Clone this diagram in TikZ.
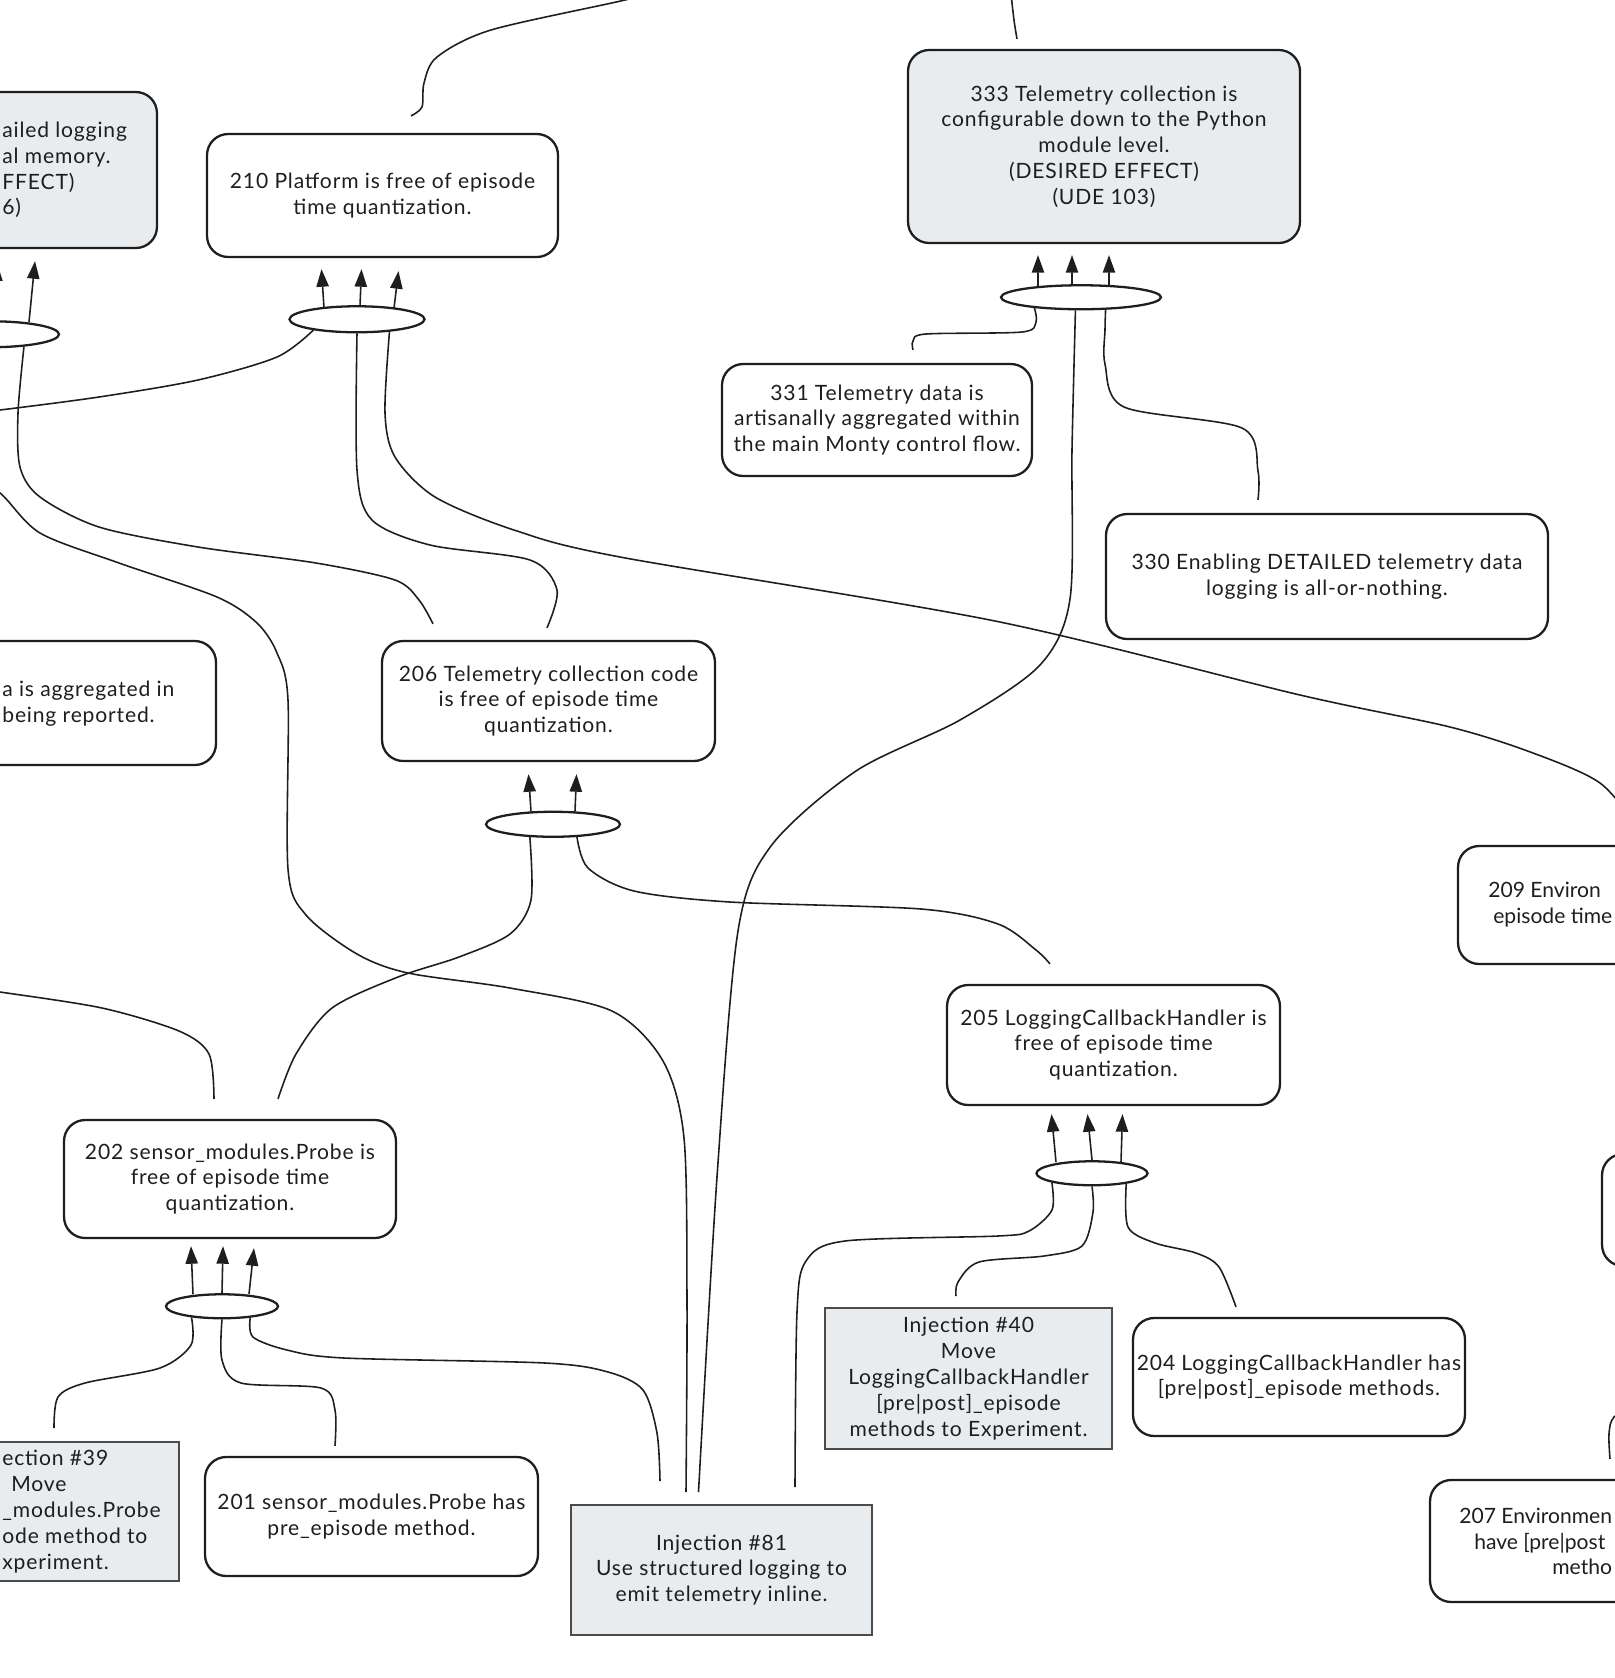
\documentclass[tikz,border=0pt]{standalone}
\usepackage{fontspec}
\setmainfont{Lato}[LetterSpace=4]
\newfontfamily\edgefont{Lato}
\usetikzlibrary{
  arrows.meta,
  positioning,
  shapes.geometric
}
\definecolor{notefill}{RGB}{233,236,239}
\definecolor{ink}{RGB}{30,30,30}
\tikzset{
  >={Triangle[length=10pt,width=7pt]},
  every node/.style={font=\fontsize{12}{14.7}\selectfont, text=ink},
  claim/.style={draw=ink, line width=1.3pt, rounded corners=12pt, align=center, inner sep=0pt},
  goal/.style={claim, fill=notefill},
  inject/.style={draw=ink!80, line width=1.1pt, fill=notefill, align=center, inner sep=0pt},
  junction/.style={draw=ink, ellipse, line width=1.3pt, inner sep=0pt},
  frag/.style={inner sep=0pt},
  wire/.style={draw=ink, line width=0.9pt},
  lift/.style={->, draw=ink, line width=0.9pt}
}

\begin{document}
\begin{tikzpicture}[x=0.02cm, y=-0.02cm]
    \useasboundingbox (0,0) rectangle (1614,1678);
    \node[goal, minimum width=7.48cm, minimum height=3.12cm] (s106) at (-30,170) {};
    \node[frag, anchor=west, align=left] (t106) at (2,170) {ailed logging\\al memory.\\FFECT)\\6)};
    \node[claim, minimum width=7.02cm, minimum height=2.46cm] (s210) at (382.5,195.5) {210 Platform is free of episode\\time quantization.};
    \node[goal, minimum width=7.84cm, minimum height=3.86cm] (s333) at (1104,146.5) {333 Telemetry collection is\\configurable down to the Python\\module level.\\(DESIRED EFFECT)\\(UDE 103)};
    \node[claim, minimum width=6.2cm, minimum height=2.24cm] (s331) at (877,420) {331 Telemetry data is\\artisanally aggregated within\\the main Monty control flow.};
    \node[claim, minimum width=8.84cm, minimum height=2.5cm] (s330) at (1327,576.5) {330 Enabling DETAILED telemetry data\\logging is all-or-nothing.};
    \node[claim, minimum width=6.6cm, minimum height=2.48cm] (sagg) at (51,703) {};
    \node[frag, anchor=west, align=left] (tagg) at (2,703.5) {a is aggregated in\\being reported.};
    \node[claim, minimum width=6.66cm, minimum height=2.4cm] (s206) at (548.5,701) {206 Telemetry collection code\\is free of episode time\\quantization.};
    \node[claim, minimum width=6.64cm, minimum height=2.36cm] (s209) at (1624,905) {};
    \node[frag, anchor=west, align=left, font=\edgefont\fontsize{12}{14.7}\selectfont] (t209) at (1488,905) {209 Environ\\\rule{0.1cm}{0pt}episode time};
    \node[claim, minimum width=6.66cm, minimum height=2.4cm] (s205) at (1113.5,1045) {205 LoggingCallbackHandler is\\free of episode time\\quantization.};
    \node[claim, minimum width=6.64cm, minimum height=2.36cm] (s202) at (230,1179) {202 sensor\_modules.Probe is\\free of episode time\\quantization.};
    \node[claim, minimum width=6.64cm, minimum height=2.24cm] (sedge) at (1768,1210) {};
    \node[inject, minimum width=5.76cm, minimum height=2.78cm] (i39) at (35,1511.5) {};
    \node[frag, anchor=west, align=left] (t39) at (2,1511.5) {ection \#39\\\rule{0.18cm}{0pt}Move\\\_modules.Probe\\ode method to\\xperiment.};
    \node[claim, minimum width=6.66cm, minimum height=2.38cm] (s201) at (371.5,1516.5) {201 sensor\_modules.Probe has\\pre\_episode method.};
    \node[inject, minimum width=6.02cm, minimum height=2.6cm] (i81) at (721.5,1570) {Injection \#81\\Use structured logging to\\emit telemetry inline.};
    \node[inject, minimum width=5.74cm, minimum height=2.82cm] (i40) at (968.5,1378.5) {Injection \#40\\Move\\LoggingCallbackHandler\\{}[pre|post]\_episode\\methods to Experiment.};
    \node[claim, minimum width=6.64cm, minimum height=2.36cm] (s204) at (1299,1377) {204 LoggingCallbackHandler has\\{}[pre|post]\_episode methods.};
    \node[claim, minimum width=6.64cm, minimum height=2.44cm] (s207) at (1596,1541) {};
    \node[frag, anchor=west, align=left, font=\edgefont\fontsize{12}{14.7}\selectfont] (t207) at (1459,1541.5) {207 Environmen\\\rule{0.3cm}{0pt}have [pre|post\\\rule{1.86cm}{0pt}metho};

    \node[junction, minimum width=2.76cm, minimum height=0.52cm, below=1.42cm of s106, xshift=0.4cm] (eL) {};
    \node[junction, minimum width=2.7cm, minimum height=0.52cm, below=0.94cm of s210, xshift=-0.51cm] (e210) {};
    \node[junction, minimum width=3.2cm, minimum height=0.48cm, below=0.8cm of s333, xshift=-0.46cm] (e333) {};
    \node[junction, minimum width=2.68cm, minimum height=0.5cm, below=0.97cm of s206, xshift=0.09cm] (e206) {};
    \node[junction, minimum width=2.24cm, minimum height=0.48cm, below=1.08cm of s202, xshift=-0.16cm] (e202) {};
    \node[junction, minimum width=2.22cm, minimum height=0.48cm, below=1.08cm of s205, xshift=-0.43cm] (e205) {};

    \coordinate (cw1) at (-30,413);
    \coordinate (cw2) at (-30,480);
    \coordinate (cw3) at (-30,988);
    \coordinate (cn1) at (680,-15);
    \coordinate (cn2) at (1010,-15);
    \coordinate (c207) at (1640,1400);

    \draw[lift] ([shift={(39,2)}]eL.north) -- ([shift={(65,12)}]s106.south);
    \draw[lift] ([shift={(5,0)}]eL.north) -- ([shift={(27,14)}]s106.south);
    \draw[lift] ([shift={(-33,3)}]e210.north) -- ([shift={(-61,11)}]s210.south);
    \draw[lift] ([shift={(3,1)}]e210.north) -- ([shift={(-21,11)}]s210.south);
    \draw[lift] ([shift={(37,3)}]e210.north) -- ([shift={(16,13)}]s210.south);
    \draw[lift] ([shift={(-43,2)}]e333.north) -- ([shift={(-66,11)}]s333.south);
    \draw[lift] ([shift={(-9,0)}]e333.north) -- ([shift={(-32,11)}]s333.south);
    \draw[lift] ([shift={(28,2)}]e333.north) -- ([shift={(5,11)}]s333.south);
    \draw[lift] ([shift={(-22,1)}]e206.north) -- ([shift={(-20,12)}]s206.south);
    \draw[lift] ([shift={(22,1)}]e206.north) -- ([shift={(28,12)}]s206.south);
    \draw[lift] ([shift={(-29,1)}]e202.north) -- ([shift={(-39,7)}]s202.south);
    \draw[lift] (e202.north) -- ([shift={(-7,7)}]s202.south);
    \draw[lift] ([shift={(27,1)}]e202.north) -- ([shift={(24,9)}]s202.south);
    \draw[lift] ([shift={(-36,2)}]e205.north) -- ([shift={(-62,8)}]s205.south);
    \draw[lift] (e205.north) -- ([shift={(-26,8)}]s205.south);
    \draw[lift] ([shift={(29,2)}]e205.north) -- ([shift={(9,8)}]s205.south);

    \draw[wire] plot[smooth] coordinates {([shift={(28.5,-17)}]s210.north) (422,107) (424,83) (437,57) (491,30) (625,0) (cn1)};
    \draw[wire] plot[smooth] coordinates {([shift={(-87,-10)}]s333.north) (1014,20) (cn2)};
    \draw[wire] plot[smooth] coordinates {(e210.194) (277,357) (198,380) (99,397) (0,410) (cw1)};
    \draw[wire] plot[smooth] coordinates {(e210.south) (357,470) (372,520) (430,545) (530,560) (557,590) ([shift={(-1.5,-12)}]s206.north)};
    \draw[wire] plot[smooth] coordinates {(e210.339) (385,413) (395,457) (435,497) (514,530) (620,557) (995,621) (1300,695) (1450,727) (1533,753) (1600,783) ([shift={(16,-15)}]s209.north)};
    \draw[wire] plot[smooth] coordinates {(eL.340) (18,413) (20,467) (40,497) (99,527) (198,547) (316,563) (395,580) (419,600) ([shift={(-115.5,-16)}]s206.north)};
    \draw[wire] plot[smooth] coordinates {(cw2) (0,493) (40,533) (119,563) (217,597) (257,623) (277,653) (288,700) (288,869) (306,915) (357,954) (408,973) (510,988) (612,1011) (663,1061) (684,1138) (687,1300) ([shift={(-35.5,-12)}]i81.north)};
    \draw[wire] plot[smooth] coordinates {(e333.193) (1036,322) (1022,332) (926,334) (913,341) ([shift={(36,-13)}]s331.north)};
    \draw[wire] plot[smooth] coordinates {(e333.333) (1105,330) (1105,364) (1124,407) (1242,428) (1258,471) ([shift={(-69,-13)}]s330.north)};
    \draw[wire] plot[smooth] coordinates {(e333.247) (1072,450) (1070,599) (1040,665) (960,720) (856,771) (771,846) (738,931) (717,1177) ([shift={(-23,-12)}]i81.north)};
    \draw[wire] plot[smooth] coordinates {(e206.209) (531,900) (510,934) (459,957) (398,977) (332,1008) (296,1054) ([shift={(48,-20)}]s202.north)};
    \draw[wire] plot[smooth] coordinates {(e206.332) (588,868) (634,891) (730,902) (921,909) (998,924) (1036,950) ([shift={(-63.5,-20)}]s205.north)};
    \draw[wire] plot[smooth] coordinates {(cw3) (0,992) (102,1008) (179,1031) (209,1054) ([shift={(-16,-20)}]s202.north)};
    \draw[wire] plot[smooth] coordinates {(e202.200) (191,1345) (160,1368) (85,1383) (58,1397) ([shift={(19,-13)}]i39.north)};
    \draw[wire] plot[smooth] coordinates {(e202.south) (222,1360) (241,1383) (321,1388) (335,1410) ([shift={(-36.5,-10)}]s201.north)};
    \draw[wire] plot[smooth] coordinates {(e202.338) (253,1337) (287,1350) (344,1358) (545,1363) (608,1372) (643,1390) (657,1433) ([shift={(-61.5,-23)}]i81.north)};
    \draw[wire] plot[smooth] coordinates {(e205.193) (1052,1210) (1029,1231) (998,1236) (845,1241) (806,1261) (797,1312) ([shift={(73.5,-17)}]i81.north)};
    \draw[wire] plot[smooth] coordinates {(e205.south) (1093,1212) (1082,1246) (1044,1256) (979,1262) (958,1282) ([shift={(-12.5,-11)}]i40.north)};
    \draw[wire] plot[smooth] coordinates {(e205.343) (1128,1227) (1155,1243) (1196,1253) (1219,1267) ([shift={(-63,-10)}]s204.north)};
    \draw[wire] plot[smooth] coordinates {([shift={(14,-20)}]s207.north) (1609,1434) (1614,1417) (c207)};
\end{tikzpicture}
\end{document}
